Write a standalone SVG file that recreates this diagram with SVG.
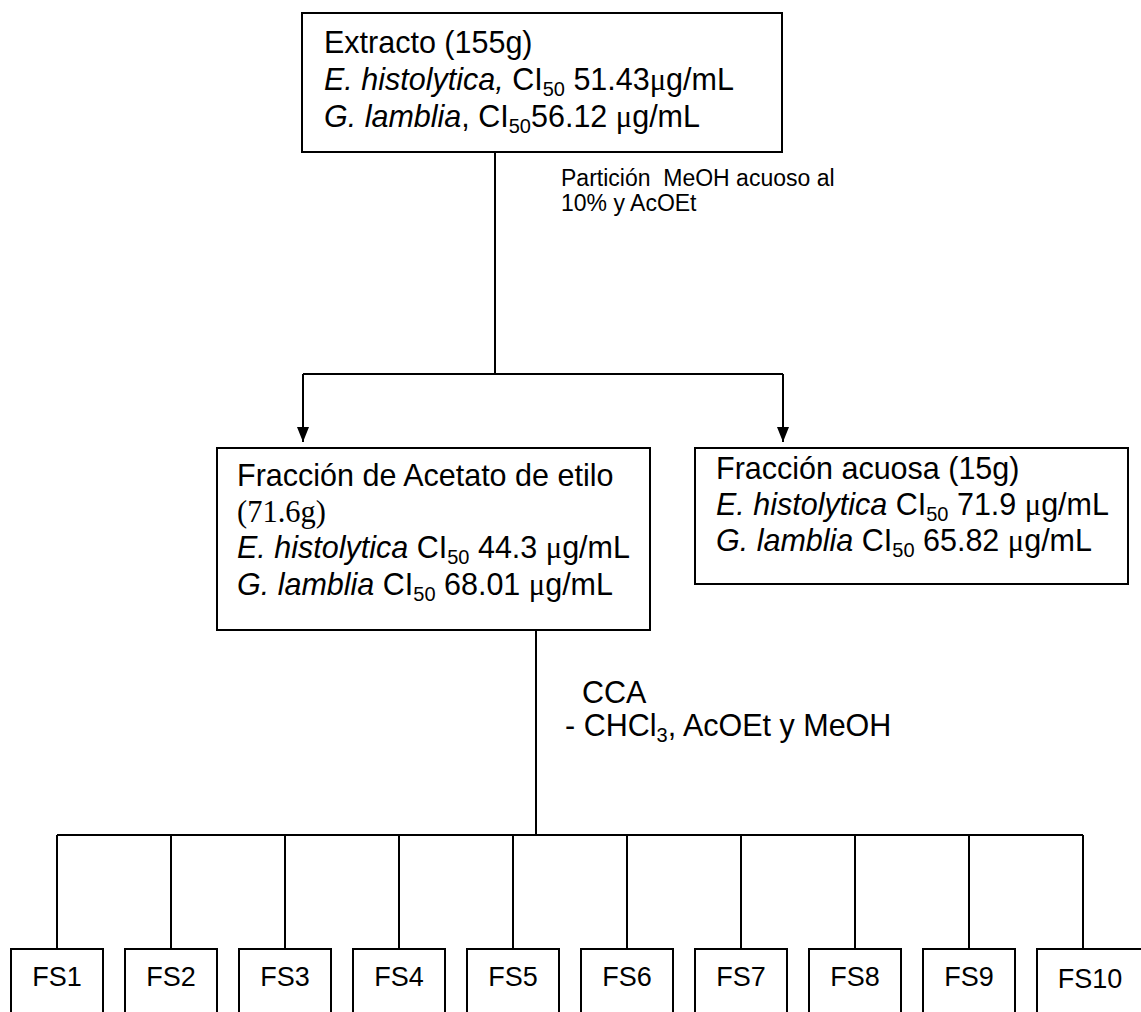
<svg xmlns="http://www.w3.org/2000/svg" width="1141" height="1012" viewBox="0 0 1141 1012">
<style>
  .box { fill: #ffffff; stroke: #000000; stroke-width: 2; }
  .ln { fill: none; stroke: #000000; stroke-width: 2; }
  text { font-family: "Liberation Sans", Arial, sans-serif; fill: #000000; }
  .t { font-size: 30.5px; }
  .it { font-style: italic; }
  .mu { font-family: "Liberation Serif", "Times New Roman", serif; }
  .serif { font-family: "Liberation Serif", "Times New Roman", serif; }
  .sub { font-size: 20px; }
  .fs { font-size: 27px; text-anchor: middle; }
  .lab { font-size: 23px; }
</style>
<defs>
  <marker id="arrow" markerUnits="userSpaceOnUse" markerWidth="15" markerHeight="12" viewBox="0 0 15 12" refX="15" refY="6" orient="auto">
    <path d="M0,0 L15,6 L0,12 Z" fill="#000000"/>
  </marker>
</defs>

<g id="connectors">
  <line class="ln" x1="495" y1="152" x2="495" y2="374"/>
  <line class="ln" x1="303" y1="374" x2="783" y2="374"/>
  <line class="ln" x1="303" y1="374" x2="303" y2="442" marker-end="url(#arrow)"/>
  <line class="ln" x1="783" y1="374" x2="783" y2="442" marker-end="url(#arrow)"/>
  <line class="ln" x1="536" y1="630" x2="536" y2="835"/>
  <line class="ln" x1="57" y1="835" x2="1083" y2="835"/>
  <line class="ln" x1="57" y1="835" x2="57" y2="949"/>
  <line class="ln" x1="171" y1="835" x2="171" y2="949"/>
  <line class="ln" x1="285" y1="835" x2="285" y2="949"/>
  <line class="ln" x1="399" y1="835" x2="399" y2="949"/>
  <line class="ln" x1="513" y1="835" x2="513" y2="949"/>
  <line class="ln" x1="627" y1="835" x2="627" y2="949"/>
  <line class="ln" x1="741" y1="835" x2="741" y2="949"/>
  <line class="ln" x1="855" y1="835" x2="855" y2="949"/>
  <line class="ln" x1="969" y1="835" x2="969" y2="949"/>
  <line class="ln" x1="1083" y1="835" x2="1083" y2="949"/>
  <text class="lab" x="561" y="186" xml:space="preserve">Partición  MeOH acuoso al</text>
  <text class="lab" x="561" y="211">10% y AcOEt</text>
  <text class="t" x="582" y="703">CCA</text>
  <text class="t" x="565" y="736">- CHCl<tspan class="sub" dy="6">3</tspan><tspan dy="-6">, AcOEt y MeOH</tspan></text>
</g>

<g id="extracto">
  <rect class="box" x="302" y="13" width="480" height="139"/>
  <text class="t" x="324" y="53">Extracto (155g)</text>
  <text class="t" x="324" y="90"><tspan class="it">E. histolytica,</tspan> CI<tspan class="sub" dy="6">50</tspan><tspan dy="-6"> 51.43</tspan><tspan class="mu">μ</tspan>g/mL</text>
  <text class="t" x="324" y="127"><tspan class="it">G. lamblia</tspan>, CI<tspan class="sub" dy="6">50</tspan><tspan dy="-6">56.12 </tspan><tspan class="mu">μ</tspan>g/mL</text>
</g>

<g id="acetato">
  <rect class="box" x="217" y="448" width="433" height="182"/>
  <text class="t" x="237" y="486">Fracción de Acetato de etilo</text>
  <text class="t serif" x="237" y="522">(71.6g)</text>
  <text class="t" x="237" y="558"><tspan class="it">E. histolytica</tspan> CI<tspan class="sub" dy="6">50</tspan><tspan dy="-6"> 44.3 </tspan><tspan class="mu">μ</tspan>g/mL</text>
  <text class="t" x="237" y="595"><tspan class="it">G. lamblia</tspan> CI<tspan class="sub" dy="6">50</tspan><tspan dy="-6"> 68.01 </tspan><tspan class="mu">μ</tspan>g/mL</text>
</g>

<g id="acuosa">
  <rect class="box" x="695" y="448" width="433" height="136"/>
  <text class="t" x="716" y="479">Fracción acuosa (15g)</text>
  <text class="t" x="716" y="515"><tspan class="it">E. histolytica</tspan> CI<tspan class="sub" dy="6">50</tspan><tspan dy="-6"> 71.9 </tspan><tspan class="mu">μ</tspan>g/mL</text>
  <text class="t" x="716" y="551"><tspan class="it">G. lamblia</tspan> CI<tspan class="sub" dy="6">50</tspan><tspan dy="-6"> 65.82 </tspan><tspan class="mu">μ</tspan>g/mL</text>
</g>

<g id="fs1"><rect class="box" x="11" y="949" width="92" height="80"/><text class="fs" x="57" y="986">FS1</text></g>
<g id="fs2"><rect class="box" x="125" y="949" width="92" height="80"/><text class="fs" x="171" y="986">FS2</text></g>
<g id="fs3"><rect class="box" x="239" y="949" width="92" height="80"/><text class="fs" x="285" y="986">FS3</text></g>
<g id="fs4"><rect class="box" x="353" y="949" width="92" height="80"/><text class="fs" x="399" y="986">FS4</text></g>
<g id="fs5"><rect class="box" x="467" y="949" width="92" height="80"/><text class="fs" x="513" y="986">FS5</text></g>
<g id="fs6"><rect class="box" x="581" y="949" width="92" height="80"/><text class="fs" x="627" y="986">FS6</text></g>
<g id="fs7"><rect class="box" x="695" y="949" width="92" height="80"/><text class="fs" x="741" y="986">FS7</text></g>
<g id="fs8"><rect class="box" x="809" y="949" width="92" height="80"/><text class="fs" x="855" y="986">FS8</text></g>
<g id="fs9"><rect class="box" x="923" y="949" width="92" height="80"/><text class="fs" x="969" y="986">FS9</text></g>
<g id="fs10"><rect class="box" x="1037" y="949" width="120" height="80"/><text class="fs" x="1090" y="988">FS10</text></g>
</svg>
